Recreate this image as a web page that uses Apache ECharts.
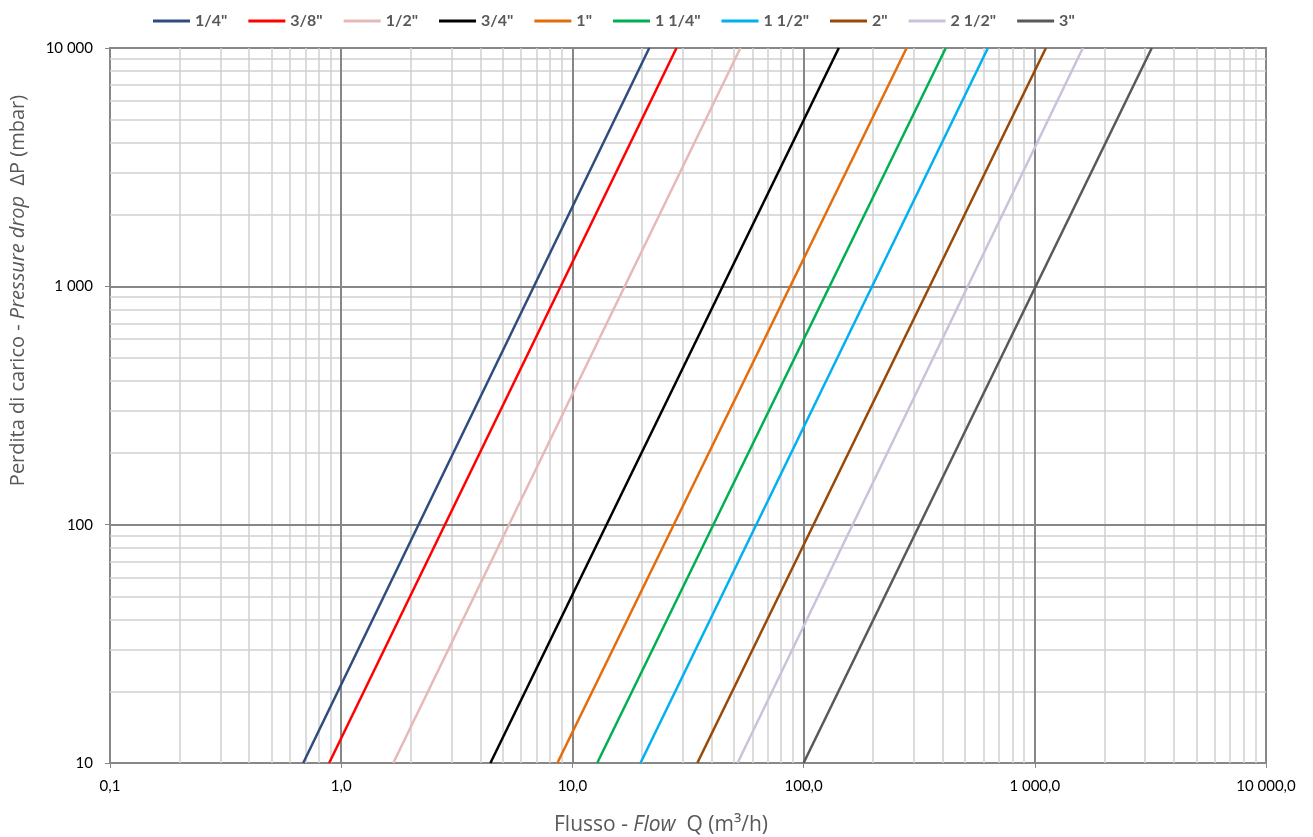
<!DOCTYPE html>
<html>
<head>
<meta charset="utf-8">
<script src="https://cdn.jsdelivr.net/npm/echarts@6/dist/echarts.min.js"></script>
<style>html,body{margin:0;padding:0;background:#fff}#c{width:1313px;height:837px}</style>
</head>
<body>
<div id="c"></div>
<script>
// ---- data ----
const sizes = ['1/4"', '3/8"', '1/2"', '3/4"', '1"', '1 1/4"', '1 1/2"', '2"', '2 1/2"', '3"'];
const colors = ['#2E4C7E', '#FF0000', '#E6B9B8', '#000000', '#E46C0A', '#00B050', '#00B0F0', '#984807', '#CCC1DA', '#595959'];
// flow Q (m3/h) where each curve meets dP = 10 mbar and dP = 10 000 mbar
const qAtLow = [0.685, 0.887, 1.68, 4.42, 8.61, 12.8, 19.7, 34.7, 51.8, 100];
const qAtHigh = [21.5, 28.2, 53.3, 142, 279, 412, 627, 1117, 1614, 3206];
const dpEnds = [10, 10000];
// axis ticks
const xMajor = [0.1, 1, 10, 100, 1000, 10000];
const xTickLabels = ['0,1', '1,0', '10,0', '100,0', '1 000,0', '10 000,0'];
const yMajor = [10, 100, 1000, 10000];
const yTickLabels = ['10', '100', '1 000', '10 000'];
const minorSteps = [2, 3, 4, 5, 6, 7, 8, 9];

// ---- build ----
const xMinor = [];
for (let i = 0; i < xMajor.length - 1; i++) minorSteps.forEach(k => xMinor.push(+(k * xMajor[i]).toPrecision(6)));
const yMinor = [];
for (let i = 0; i < yMajor.length - 1; i++) minorSteps.forEach(k => yMinor.push(+(k * yMajor[i]).toPrecision(6)));

function labelFor(v, majors, labels) {
  for (let i = 0; i < majors.length; i++) if (Math.abs(Math.log10(v) - Math.log10(majors[i])) < 1e-6) return labels[i];
  return '';
}

const gridSeries = (xs, ys, color, width, z) => ({
  type: 'line', data: [], silent: true, z: z, legendHoverLink: false,
  markLine: {
    silent: true, symbol: ['none', 'none'], label: { show: false }, animation: false,
    lineStyle: { color: color, width: width, type: 'solid' },
    emphasis: { disabled: true },
    data: xs.map(v => ({ xAxis: v })).concat(ys.map(v => ({ yAxis: v })))
  }
});

const series = [
  gridSeries(xMinor, yMinor, '#D0D0D0', 1.5, 1),
  gridSeries(xMajor.slice(1, -1), yMajor.slice(1, -1), '#878787', 2, 2)
];
sizes.forEach((s, i) => {
  series.push({
    name: s, type: 'line', z: 5, symbol: 'none', smooth: false,
    lineStyle: { color: colors[i], width: 2.5 }, itemStyle: { color: colors[i] },
    emphasis: { disabled: true },
    data: [[qAtLow[i], dpEnds[0]], [qAtHigh[i], dpEnds[1]]]
  });
});

const titleFont = '"Open Sans", Lato, sans-serif';
const chart = echarts.init(document.getElementById('c'), null, { renderer: 'canvas' });
chart.setOption({
  animation: false,
  backgroundColor: '#fff',
  textStyle: { fontFamily: 'Lato, "Open Sans", sans-serif' },
  legend: {
    data: sizes, top: 8, left: 148, icon: 'rect', itemWidth: 37, itemHeight: 3, itemGap: 21,
    textStyle: { fontWeight: 'bold', fontSize: 16, color: '#595959', fontFamily: 'Lato, sans-serif' },
    selectedMode: false
  },
  grid: { left: 110, right: 47, top: 48, bottom: 74, containLabel: false, outerBoundsMode: 'none',
    show: true, borderColor: '#878787', borderWidth: 2 },
  xAxis: {
    type: 'log', logBase: 10, min: 0.1, max: 10000,
    splitLine: { show: false },
    axisLine: { show: true, lineStyle: { color: '#878787', width: 2 } },
    axisTick: { show: true, length: 5, lineStyle: { color: '#878787' } },
    axisLabel: { color: '#000', fontSize: 15, margin: 16, formatter: v => labelFor(v, xMajor, xTickLabels) },
    name: '{a|Flusso - }{b|Flow}{a|  Q (m³/h)}',
    nameLocation: 'middle', nameGap: 52,
    nameTextStyle: { padding: [0, 54, 0, 0], rich: {
      a: { fontSize: 21, color: '#595959', fontFamily: titleFont },
      b: { fontSize: 21, color: '#595959', fontStyle: 'italic', fontFamily: titleFont } } }
  },
  yAxis: {
    type: 'log', logBase: 10, min: 10, max: 10000,
    splitLine: { show: false },
    axisLine: { show: true, lineStyle: { color: '#878787', width: 2 } },
    axisTick: { show: true, length: 5, lineStyle: { color: '#878787' } },
    axisLabel: { color: '#000', fontSize: 15, margin: 17, formatter: v => labelFor(v, yMajor, yTickLabels) },
    name: '{a|Perdita di carico - }{b|Pressure drop}{a|  ΔP (mbar)}',
    nameLocation: 'middle', nameGap: 82,
    nameTextStyle: { padding: [0, 0, 0, 230], rich: {
      a: { fontSize: 20, color: '#595959', fontFamily: titleFont },
      b: { fontSize: 20, color: '#595959', fontStyle: 'italic', fontFamily: titleFont } } }
  },
  series: series
});
</script>
</body>
</html>
